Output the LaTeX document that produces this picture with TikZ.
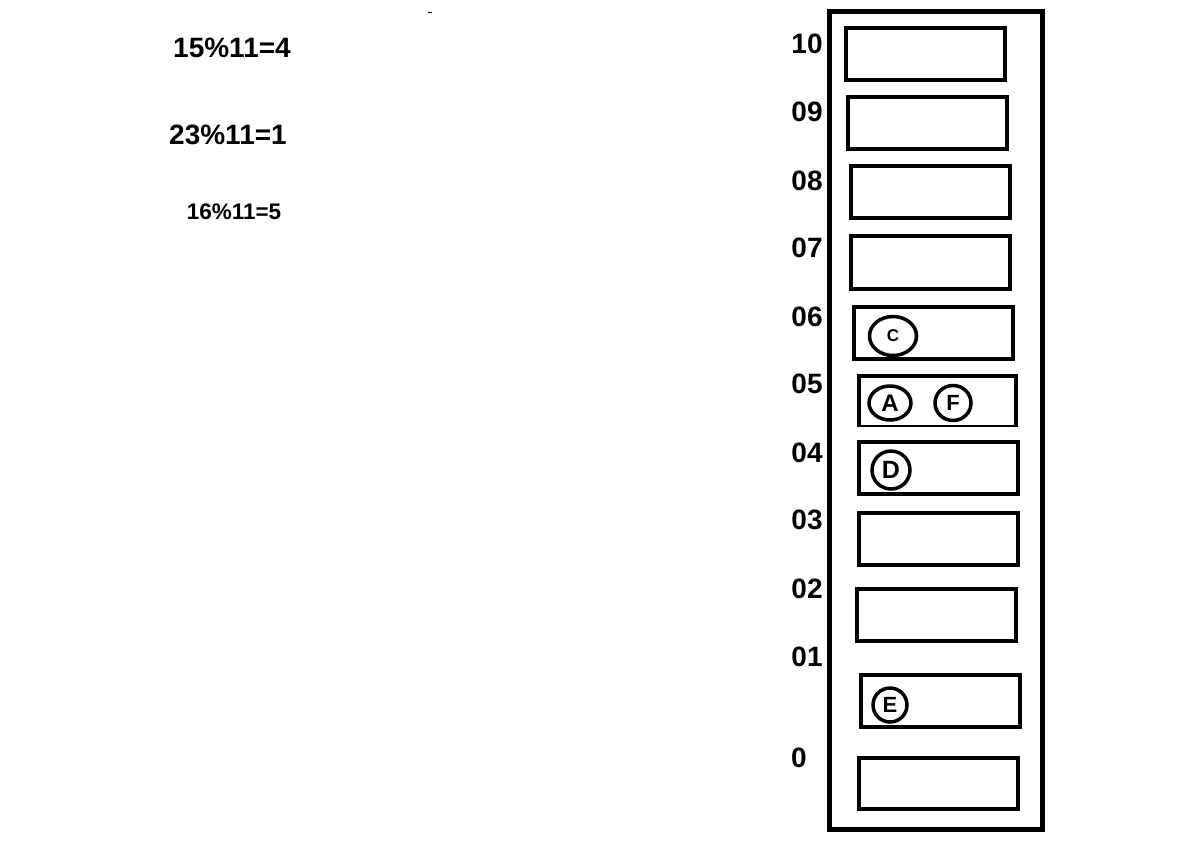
\documentclass[tikz,border=0pt]{standalone}
\usepackage{fontspec}
\setmainfont{Liberation Sans}
\usetikzlibrary{shapes.geometric}
\tikzset{
  slot/.style={draw, line width=4pt, rectangle},
  idx/.style={font=\fontsize{28}{30}\selectfont\bfseries, inner sep=0},
  eq/.style={font=\fontsize{28}{30}\selectfont\bfseries, inner sep=0},
  key/.style={draw, ellipse, line width=3.5pt, inner sep=0}
}
\begin{document}
\begin{tikzpicture}[x=1pt,y=-1pt]
\useasboundingbox (0,0) rectangle (1182,860);
\fill[white] (0,0) rectangle (1182,860);
% formulas
\node[eq] (f1) at (232,48) {15\%11=4};
\node[eq] (f2) at (228,135) {23\%11=1};
\node[eq, font=\fontsize{22.5}{24}\selectfont\bfseries] (f3) at (234,212) {16\%11=5};
\draw[line width=1pt] (428,12) -- (432,12);
% outer frame
\draw[line width=5pt] (829,11) rectangle (1042,829);
% slots
\draw[slot] (846,28) rectangle (1005,80);
\draw[slot] (848,97) rectangle (1007,149);
\draw[slot] (851,166) rectangle (1010,218);
\draw[slot] (851,236) rectangle (1010,289);
\draw[slot] (854,307) rectangle (1013,359);
\draw[line width=4pt] (859,426) -- (859,376) -- (1016,376) -- (1016,426);
\draw[line width=2pt] (857,426) -- (1018,426);
\draw[slot] (859,442) rectangle (1018,494);
\draw[slot] (859,513) rectangle (1018,565);
\draw[slot] (857,589) rectangle (1016,641);
\draw[slot] (861,675) rectangle (1020,727);
\draw[slot] (859,758) rectangle (1018,809);
% indices
\node[idx] (i10) at (807,44) {10};
\node[idx] (i09) at (807,112) {09};
\node[idx] (i08) at (807,181) {08};
\node[idx] (i07) at (807,248) {07};
\node[idx] (i06) at (807,317) {06};
\node[idx] (i05) at (807,384) {05};
\node[idx] (i04) at (807,453) {04};
\node[idx] (i03) at (807,520) {03};
\node[idx] (i02) at (807,589) {02};
\node[idx] (i01) at (807,657) {01};
\node[idx] (i00) at (799,758) {0};
% keys
\node[key, minimum width=47pt, minimum height=39pt, font=\fontsize{17}{18}\selectfont\bfseries] (C) at (893,336) {C};
\node[key, minimum width=42pt, minimum height=34pt, font=\fontsize{24}{26}\selectfont\bfseries] (A) at (890,403) {A};
\node[key, minimum width=36pt, minimum height=35pt, font=\fontsize{22}{24}\selectfont\bfseries] (F) at (953,403) {F};
\node[key, minimum width=38pt, minimum height=38pt, font=\fontsize{25}{27}\selectfont\bfseries] (D) at (891,470) {D};
\node[key, minimum width=34pt, minimum height=34pt, font=\fontsize{22}{24}\selectfont\bfseries] (E) at (890,705) {E};
\end{tikzpicture}
\end{document}
